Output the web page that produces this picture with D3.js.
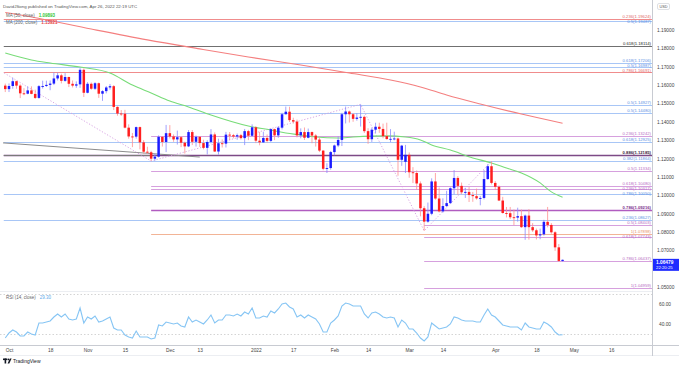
<!DOCTYPE html>
<html><head><meta charset="utf-8">
<script src="https://cdn.jsdelivr.net/npm/d3@7"></script>
<style>body{margin:0;background:#fff;overflow:hidden}svg{display:block;font-family:"Liberation Sans",Arial,sans-serif}</style>
</head><body>
<script>
// ---------- DATA ----------
const startDate = "2021-09-30"; // first bar (index -1); daily weekday bars
const open = [
1.1597,1.1578,1.1595,1.1621,1.1597,1.1555,1.1553,1.1571,1.1552,1.1530,
1.1594,1.1595,1.1601,1.1608,1.1636,1.1653,1.1623,1.1644,1.1607,1.1597,
1.1604,1.1683,1.1558,1.1607,1.1580,1.1610,1.1553,1.1567,1.1587,1.1594,
1.1481,1.1445,1.1444,1.1368,1.1320,1.1319,1.1371,1.1288,1.1237,1.1234,
1.1199,1.1210,1.1318,1.1290,1.1338,1.1320,1.1304,1.1316,1.1286,1.1266,
1.1344,1.1291,1.1318,1.1284,1.1258,1.1290,1.1331,1.1238,1.1283,1.1281,
1.1330,1.1327,1.1320,1.1327,1.1311,1.1349,1.1324,1.1370,1.1297,1.1288,
1.1312,1.1296,1.1360,1.1326,1.1368,1.1441,1.1455,1.1409,1.1401,1.1326,
1.1344,1.1313,1.1344,1.1325,1.1303,1.1243,1.1144,1.1148,1.1235,1.1271,
1.1301,1.1441,1.1456,1.1441,1.1416,1.1423,1.1427,1.1349,1.1305,1.1357,
1.1373,1.1361,1.1322,1.1306,1.1307,1.1309,1.1193,1.1182,1.1220,1.1125,
1.1121,1.1064,1.0929,1.0856,1.0899,1.1075,1.0982,1.0912,1.0941,1.0957,
1.1038,1.1094,1.1051,1.1016,1.1018,1.1001,1.0995,1.0983,1.0985,1.1088,
1.1158,1.1067,1.1046,1.0971,1.0903,1.0902,1.0880,1.0878,1.0886,1.0826,
1.0889,1.0826,1.0809,1.0781,1.0787,1.0855,1.0838,1.0798,1.0716,1.0642];
const high = [
1.1608,1.1609,1.1640,1.1624,1.1604,1.1583,1.1593,1.1593,1.1575,1.1600,
1.1624,1.1624,1.1625,1.1669,1.1668,1.1662,1.1665,1.1646,1.1625,1.1620,
1.1692,1.1691,1.1616,1.1614,1.1616,1.1614,1.1572,1.1595,1.1606,1.1600,
1.1484,1.1464,1.1465,1.1386,1.1339,1.1374,1.1374,1.1300,1.1264,1.1242,
1.1225,1.1326,1.1322,1.1383,1.1382,1.1331,1.1352,1.1321,1.1292,1.1355,
1.1355,1.1325,1.1321,1.1302,1.1300,1.1360,1.1342,1.1308,1.1304,1.1345,
1.1344,1.1334,1.1336,1.1334,1.1361,1.1356,1.1386,1.1376,1.1345,1.1346,
1.1331,1.1364,1.1363,1.1375,1.1449,1.1483,1.1482,1.1422,1.1412,1.1364,
1.1369,1.1363,1.1347,1.1333,1.1316,1.1245,1.1174,1.1241,1.1276,1.1320,
1.1449,1.1483,1.1461,1.1447,1.1447,1.1495,1.1434,1.1365,1.1368,1.1395,
1.1395,1.1390,1.1395,1.1360,1.1346,1.1314,1.1274,1.1274,1.1233,1.1153,
1.1135,1.1075,1.0940,1.0960,1.1092,1.1121,1.1042,1.0983,1.1024,1.1043,
1.1137,1.1104,1.1069,1.1040,1.1044,1.1018,1.1036,1.0996,1.1137,1.1170,
1.1185,1.1077,1.1053,1.0991,1.0936,1.0936,1.0922,1.0932,1.0922,1.0895,
1.0924,1.0848,1.0818,1.0818,1.0866,1.0936,1.0848,1.0804,1.0734,1.0650];
const low = [
1.1562,1.1562,1.1580,1.1580,1.1529,1.1545,1.1550,1.1550,1.1524,1.1525,
1.1581,1.1590,1.1572,1.1600,1.1625,1.1609,1.1618,1.1589,1.1587,1.1585,
1.1585,1.1535,1.1555,1.1574,1.1573,1.1530,1.1514,1.1555,1.1575,1.1464,
1.1433,1.1432,1.1364,1.1308,1.1262,1.1308,1.1250,1.1226,1.1225,1.1186,
1.1188,1.1205,1.1265,1.1235,1.1309,1.1291,1.1276,1.1262,1.1227,1.1262,
1.1273,1.1265,1.1263,1.1250,1.1222,1.1282,1.1236,1.1221,1.1260,1.1260,
1.1300,1.1310,1.1302,1.1303,1.1273,1.1300,1.1320,1.1284,1.1272,1.1285,
1.1286,1.1290,1.1300,1.1313,1.1358,1.1440,1.1399,1.1390,1.1315,1.1310,
1.1301,1.1310,1.1283,1.1265,1.1235,1.1136,1.1121,1.1139,1.1218,1.1262,
1.1268,1.1391,1.1396,1.1400,1.1406,1.1374,1.1339,1.1280,1.1290,1.1338,
1.1340,1.1310,1.1302,1.1289,1.1299,1.1106,1.1160,1.1121,1.1095,1.1066,
1.1030,1.0885,1.0806,1.0850,1.0891,1.0975,1.0906,1.0905,1.0936,1.0953,
1.1005,1.1002,1.1005,1.0985,1.0963,1.0964,1.0976,1.0945,1.0977,1.1084,
1.1059,1.1028,1.0968,1.0900,1.0879,1.0870,1.0837,1.0856,1.0822,1.0757,
1.0758,1.0800,1.0759,1.0760,1.0780,1.0825,1.0790,1.0697,1.0637,1.0638];
const close = [
1.1578,1.1595,1.1621,1.1597,1.1555,1.1553,1.1571,1.1552,1.1530,1.1594,
1.1595,1.1601,1.1608,1.1636,1.1653,1.1623,1.1644,1.1607,1.1597,1.1604,
1.1683,1.1558,1.1607,1.1580,1.1610,1.1553,1.1567,1.1587,1.1594,1.1481,
1.1445,1.1444,1.1368,1.1320,1.1319,1.1371,1.1288,1.1237,1.1234,1.1199,
1.1210,1.1318,1.1290,1.1338,1.1320,1.1304,1.1316,1.1286,1.1266,1.1344,
1.1291,1.1318,1.1284,1.1258,1.1290,1.1331,1.1238,1.1283,1.1281,1.1330,
1.1327,1.1320,1.1327,1.1311,1.1349,1.1324,1.1370,1.1297,1.1288,1.1312,
1.1296,1.1360,1.1326,1.1368,1.1441,1.1455,1.1409,1.1401,1.1326,1.1344,
1.1313,1.1344,1.1325,1.1303,1.1243,1.1144,1.1148,1.1235,1.1271,1.1301,
1.1441,1.1456,1.1441,1.1416,1.1423,1.1427,1.1349,1.1305,1.1357,1.1373,
1.1361,1.1322,1.1306,1.1307,1.1309,1.1193,1.1270,1.1220,1.1125,1.1121,
1.1064,1.0929,1.0856,1.0899,1.1075,1.0982,1.0912,1.0941,1.0957,1.1038,
1.1094,1.1051,1.1016,1.1018,1.1001,1.0995,1.0983,1.0985,1.1088,1.1158,
1.1067,1.1046,1.0971,1.0903,1.0902,1.0880,1.0878,1.0886,1.0826,1.0889,
1.0826,1.0809,1.0781,1.0787,1.0855,1.0838,1.0798,1.0716,1.0642,1.0648];
const rsi = [
26,31,34,32,28,28,32,30,29,41,
41,42,43,47,50,47,50,45,44,45,
56,41,47,45,48,42,43,45,47,36,
34,34,29,27,26,33,27,27,27,25,
26,39,38,42,41,40,41,38,37,47,
42,44,42,40,44,49,41,44,44,49,
49,48,50,48,52,50,56,46,46,48,
47,53,51,55,60,61,57,55,47,49,
46,49,47,45,40,32,32,41,44,48,
58,61,60,58,58,58,50,46,51,52,
50,47,46,47,46,37,44,41,35,35,
31,26,23,27,41,38,35,36,37,40,
47,46,44,43,43,43,42,42,49,55,
49,47,43,39,38,37,37,37,34,41,
37,36,35,35,42,40,37,32,29,29.3];
const ma50At  = [-1,6,11,19,27,33,38,43,48,54,64,70,74,78,82,88,92,101,106,110,113,118,124,129,133,137,142,145,148];
const ma50Val = [1.1775,1.1737,1.1720,1.1698,1.1666,1.1600,1.1557,1.1513,1.1481,1.1437,1.1377,1.1355,1.1339,1.1328,1.1317,1.1312,1.1317,1.1323,1.1317,1.1301,1.1274,1.1246,1.1203,1.1176,1.1148,1.1121,1.1067,1.1018,1.0989];
const ma200At  = [-1,6,22,37,51,64,78,91,102,110,117,126,137,148];
const ma200Val = [1.1995,1.1971,1.1905,1.1846,1.1797,1.1753,1.1709,1.1666,1.1628,1.1590,1.1546,1.1497,1.1442,1.1392];
const fibLabels = ["0.236(1.19624)","0.5(1.19487)","0.618(1.18114)","0.618(1.17206)","0.5(1.16987)","0.786(1.16691)","0.5(1.14927)","0.5(1.14480)","0.236(1.13242)","0.618(1.12925)","0.886(1.12185)","0.382(1.11864)","0.5(1.11334)","0.618(1.10480)","0.236(1.10317)","0.786(1.10050)","0.786(1.09216)","0.236(1.08627)","0.5(1.08403)","1(1.07898)","0.618(1.07743)","0.786(1.06437)","1(1.04959)"];
const fibPrices = [1.19624,1.19487,1.18114,1.17206,1.16987,1.16691,1.14927,1.14480,1.13242,1.12925,1.12185,1.11864,1.11334,1.10480,1.10317,1.10050,1.09216,1.08627,1.08403,1.07898,1.07743,1.06437,1.04959];
const fibKinds = ["red","blue","gray","blue","blue","red","blue","blue","violet","blue","dark","blue","violet","violet","violet","blue","bold","blue","violet","peach","violet","violet","violet"];
const fibFrom = [-1.4,-1.4,-1.4,-1.4,-1.4,-1.4,-1.4,-1.4,38,-1.4,-1.4,-1.4,38,38,38,-1.4,38,-1.4,111,38,111,111,111];
const swingAt = [-1.3,38,94,111,129];
const swingPrice = [1.1666,1.1186,1.1495,1.0806,1.1185];
const trendAt = [-1.6,51];
const trendPrice = [1.1285,1.1208];
const priceTicks = [1.05,1.07,1.08,1.09,1.10,1.11,1.12,1.13,1.14,1.15,1.16,1.17,1.18,1.19];
const rsiTicks = [40,60];
const rsiBands = [70,30];
const timeTickDates = ["2021-10-01","2021-10-18","2021-11-01","2021-11-15","2021-12-01","2021-12-13","2022-01-03","2022-01-17","2022-02-01","2022-02-14","2022-03-01","2022-03-14","2022-04-01","2022-04-18","2022-05-02","2022-05-16"];
const timeTickLabels = ["Oct","18","Nov","15","Dec","13","2022","17","Feb","14","Mar","14","Apr","18","May","16"];
const lastPrice = 1.06479, countdown = "22:20:25";
const ma50Last = "1.09893", ma200Last = "1.13921", rsiLast = "29.30";

// ---------- CALENDAR ----------
const parse = d3.utcParse("%Y-%m-%d");
const dates = [];
let dd = parse(startDate);
for (let k = 0; k < 200; k++) {
  dates.push(+dd);
  dd = d3.utcDay.offset(dd, 1);
  while (dd.getUTCDay() === 0 || dd.getUTCDay() === 6) dd = d3.utcDay.offset(dd, 1);
}
const idxOf = s => dates.indexOf(+parse(s)) - 1;

// ---------- SCALES ----------
const W = 679, H = 368, AX = 652;
const x = d3.scaleLinear().domain([0, 161]).range([9, 611.2]);
const y = d3.scaleLinear().domain([1.05, 1.19]).range([287, 30]);
const yr = d3.scaleLinear().domain([30, 70]).range([334, 294]);

const svg = d3.select("body").append("svg").attr("width", W).attr("height", H);
svg.append("rect").attr("width", W).attr("height", H).attr("fill", "#fff");
const defs = svg.append("defs");
defs.append("clipPath").attr("id", "pp").append("rect").attr("x", 0).attr("y", 10).attr("width", AX).attr("height", 281);
defs.append("clipPath").attr("id", "rp").append("rect").attr("x", 0).attr("y", 292).attr("width", AX).attr("height", 53);

const price = svg.append("g").attr("clip-path", "url(#pp)");

// fib levels
const lineCol = {red:"#f08c8c", blue:"#a8c6f6", gray:"#707070", violet:"#d6a0de", dark:"#7d4a86", bold:"#b15cc0", peach:"#f2b496"};
const textCol = {red:"#e06666", blue:"#5d8fe4", gray:"#222", violet:"#b76cc4", dark:"#3b2340", bold:"#7b2d8c", peach:"#e79067"};
const fib = fibPrices.map((p, k) => ({p, label: fibLabels[k], kind: fibKinds[k], from: fibFrom[k]}));
price.selectAll("line.fib").data(fib).join("line").attr("class", "fib")
  .attr("x1", d => x(d.from)).attr("x2", AX)
  .attr("y1", d => Math.round(y(d.p)) + 0.5).attr("y2", d => Math.round(y(d.p)) + 0.5)
  .attr("stroke", d => lineCol[d.kind]).attr("stroke-width", d => (d.kind === "bold" || d.kind === "dark") ? 1.4 : 1);
price.append("line").attr("x1", x(-1.4)).attr("x2", x(38)).attr("y1", Math.round(y(1.12185)) + 0.5).attr("y2", Math.round(y(1.12185)) + 0.5).attr("stroke", "#7a7a7a").attr("stroke-width", 1);

// trend line
price.append("line").attr("x1", x(trendAt[0])).attr("y1", y(trendPrice[0])).attr("x2", x(trendAt[1])).attr("y2", y(trendPrice[1]))
  .attr("stroke", "#8c8c8c").attr("stroke-width", 1);

// swings dotted
price.append("path").datum(swingAt.map((a, k) => [a, swingPrice[k]]))
  .attr("d", d3.line().x(d => x(d[0])).y(d => y(d[1])))
  .attr("fill", "none").attr("stroke", "#d49be0").attr("stroke-width", 0.9).attr("stroke-dasharray", "1.2,1.8");

// MAs
const maLine = d3.line().x(d => x(d[0])).y(d => y(d[1])).curve(d3.curveMonotoneX);
price.append("path").datum(ma200At.map((a, k) => [a, ma200Val[k]])).attr("d", maLine)
  .attr("fill", "none").attr("stroke", "#f47f7f").attr("stroke-width", 1.1);
price.append("path").datum(ma50At.map((a, k) => [a, ma50Val[k]])).attr("d", maLine)
  .attr("fill", "none").attr("stroke", "#78dc78").attr("stroke-width", 1.1);

// candles
const bars = open.map((o, k) => ({i: k - 1, o, h: high[k], l: low[k], c: close[k]}));
const bw = 2.5;
const cg = price.append("g");
cg.selectAll("line.wick").data(bars).join("line").attr("class", "wick")
  .attr("x1", d => x(d.i)).attr("x2", d => x(d.i))
  .attr("y1", d => y(d.h)).attr("y2", d => y(d.l))
  .attr("stroke", d => d.c >= d.o ? "#8a8aff" : "#ff8f8f").attr("stroke-width", 0.8);
cg.selectAll("rect.body").data(bars).join("rect").attr("class", "body")
  .attr("x", d => x(d.i) - bw / 2).attr("width", bw)
  .attr("y", d => y(Math.max(d.o, d.c)))
  .attr("height", d => Math.max(0.9, Math.abs(y(d.o) - y(d.c))))
  .attr("fill", d => d.c >= d.o ? "#1c1cff" : "#ff1f1f");

// fib labels (nudged apart so they stay readable)
const lab = fib.map(d => ({...d, by: Math.round(y(d.p)) - 1})).sort((a, b) => a.by - b.by);
for (let k = 1; k < lab.length; k++) if (lab[k].by < lab[k - 1].by + 4.9) lab[k].by = lab[k - 1].by + 4.9;
svg.append("g").selectAll("text").data(lab).join("text")
  .attr("x", AX - 1).attr("y", d => d.by)
  .attr("text-anchor", "end").attr("font-size", 4.2)
  .attr("font-weight", d => (d.kind === "bold" || d.kind === "dark") ? 700 : 400)
  .attr("fill", d => textCol[d.kind]).text(d => d.label);

// ---------- RSI ----------
const rg = svg.append("g").attr("clip-path", "url(#rp)");
rg.selectAll("line.band").data(rsiBands).join("line").attr("class", "band")
  .attr("x1", 0).attr("x2", AX).attr("y1", d => yr(d) + 0.5).attr("y2", d => yr(d) + 0.5)
  .attr("stroke", "#c9c9c9").attr("stroke-width", 0.8).attr("stroke-dasharray", "1.5,2");
rg.append("path").datum(rsi.map((v, k) => [k - 1, v]))
  .attr("d", d3.line().x(d => x(d[0])).y(d => yr(d[1])))
  .attr("fill", "none").attr("stroke", "#86c5f4").attr("stroke-width", 1.1);

// ---------- FRAME ----------
svg.append("line").attr("x1", 0).attr("x2", AX).attr("y1", 291.5).attr("y2", 291.5).attr("stroke", "#eceef2");
svg.append("line").attr("x1", 0).attr("x2", W).attr("y1", 345.5).attr("y2", 345.5).attr("stroke", "#c8cbd2");
svg.append("line").attr("x1", 0).attr("x2", W).attr("y1", 355.5).attr("y2", 355.5).attr("stroke", "#eceef2");
svg.append("line").attr("x1", AX + 0.5).attr("x2", AX + 0.5).attr("y1", 0).attr("y2", 356).attr("stroke", "#c8cbd2");

// price axis
const gy = svg.append("g").attr("transform", `translate(${AX},0)`)
  .call(d3.axisRight(y).tickValues(priceTicks).tickFormat(d3.format(".5f")).tickSize(0).tickPadding(5));
gy.select(".domain").remove();
gy.selectAll("text").attr("font-size", 4.8).attr("fill", "#444").attr("font-family", null);

const gr = svg.append("g").attr("transform", `translate(${AX},0)`)
  .call(d3.axisRight(yr).tickValues(rsiTicks).tickFormat(d3.format(".2f")).tickSize(0).tickPadding(7));
gr.select(".domain").remove();
gr.selectAll("text").attr("font-size", 4.8).attr("fill", "#444").attr("font-family", null);

// time axis
const gx = svg.append("g").attr("transform", "translate(0,346)")
  .call(d3.axisBottom(x).tickValues(timeTickDates.map(idxOf)).tickFormat((v, k) => timeTickLabels[k]).tickSize(0).tickPadding(2.5));
gx.select(".domain").remove();
gx.selectAll("text").attr("font-size", 4.8).attr("fill", "#444").attr("font-family", null);

// USD box
svg.append("rect").attr("x", 657.5).attr("y", 3.5).attr("width", 12).attr("height", 6).attr("rx", 1.5).attr("fill", "#fff").attr("stroke", "#c8cbd2").attr("stroke-width", 0.6);
svg.append("text").attr("x", 663.5).attr("y", 8).attr("text-anchor", "middle").attr("font-size", 3.8).attr("fill", "#555").text("USD");

// last price label
const ly = y(lastPrice);
svg.append("rect").attr("x", AX + 1).attr("y", ly - 1).attr("width", W - AX - 1).attr("height", 12).attr("fill", "#1f2bff");
svg.append("text").attr("x", 656).attr("y", ly + 4.2).attr("font-size", 4.8).attr("font-weight", 700).attr("fill", "#fff").text(d3.format(".5f")(lastPrice));
svg.append("text").attr("x", 656).attr("y", ly + 9.4).attr("font-size", 4.3).attr("fill", "#fff").text(countdown);

// ---------- TEXT ----------
svg.append("text").attr("x", 3).attr("y", 7.5).attr("font-size", 4.4).attr("fill", "#555")
  .text("DavidJSong published on TradingView.com, Apr 26, 2022 22:19 UTC");
const leg1 = svg.append("text").attr("x", 6).attr("y", 16.8).attr("font-size", 4.5).attr("fill", "#666");
leg1.append("tspan").text("MA (50, close)");
leg1.append("tspan").attr("dx", 4).attr("fill", "#35c635").attr("font-weight", 700).text(ma50Last);
const leg2 = svg.append("text").attr("x", 6).attr("y", 23.5).attr("font-size", 4.5).attr("fill", "#666");
leg2.append("tspan").text("MA (200, close)");
leg2.append("tspan").attr("dx", 4).attr("fill", "#e84545").attr("font-weight", 700).text(ma200Last);
const leg3 = svg.append("text").attr("x", 6).attr("y", 298.5).attr("font-size", 4.5).attr("fill", "#666");
leg3.append("tspan").text("RSI (14, close)");
leg3.append("tspan").attr("dx", 4).attr("fill", "#5aa9ea").text(rsiLast);

// TradingView logo
const lg = svg.append("g").attr("fill", "#131722");
lg.append("rect").attr("x", 3).attr("y", 358.5).attr("width", 4.2).attr("height", 1.6);
lg.append("rect").attr("x", 4.6).attr("y", 358.5).attr("width", 1.6).attr("height", 5);
lg.append("circle").attr("cx", 8.4).attr("cy", 359.4).attr("r", 0.9);
lg.append("path").attr("d", "M7.6,363.5 L9.9,358.5 L11.6,358.5 L9.3,363.5 Z");
svg.append("text").attr("x", 13).attr("y", 363).attr("font-size", 5).attr("fill", "#131722").text("TradingView");
</script>
</body></html>
